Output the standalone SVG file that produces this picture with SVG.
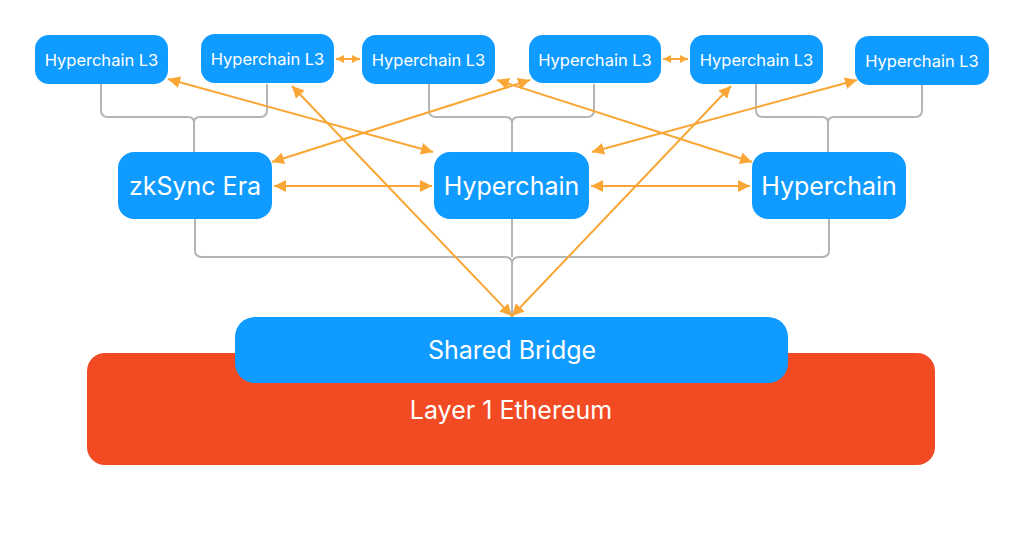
<svg xmlns="http://www.w3.org/2000/svg" width="1024" height="550" viewBox="0 0 1024 550">
<style>
.blue{fill:#0F9BFF}
.red{fill:#F24A22}
.t{font-family:Inter,"Noto Sans","Liberation Sans",sans-serif;fill:#fff;text-anchor:middle}
.s{font-size:16.5px}
.m{font-size:25px}
.g{fill:none;stroke:#b5b5b5;stroke-width:2}
.o{fill:none;stroke:#FAA634;stroke-width:2;marker-start:url(#ah);marker-end:url(#ah)}
.os{fill:none;stroke:#FAA634;stroke-width:2;marker-start:url(#ahs);marker-end:url(#ahs)}
</style>
<defs>
<marker id="ah" viewBox="0 0 10 10" refX="10" refY="5" markerWidth="6" markerHeight="6" orient="auto-start-reverse" markerUnits="strokeWidth">
<path d="M0,0 L10,5 L0,10 z" fill="#FAA634"/>
</marker>
<marker id="ahs" viewBox="0 0 10 10" refX="10" refY="5" markerWidth="4.2" markerHeight="5" orient="auto-start-reverse" markerUnits="strokeWidth">
<path d="M0,0 L10,5 L0,10 z" fill="#FAA634"/>
</marker>
</defs>
<rect width="1024" height="550" fill="#fff"/>
<g id="brackets">
<path class="g" d="M101,84 V110 Q101,117 108,117 H188 Q194,117 194,123 V152"/>
<path class="g" d="M267,84 V110 Q267,117 260,117 H200 Q194,117 194,123"/>
<path class="g" d="M429,84 V110 Q429,117 436,117 H505 Q512,117 512,123 V152"/>
<path class="g" d="M594,84 V110 Q594,117 587,117 H519 Q512,117 512,123"/>
<path class="g" d="M756,84 V110 Q756,117 763,117 H822 Q828,117 828,123 V152"/>
<path class="g" d="M922,84 V110 Q922,117 915,117 H834 Q828,117 828,123"/>
<path class="g" d="M195,219 V250 Q195,257 202,257 H505 Q512,257 512,264 V317"/>
<path class="g" d="M829,219 V250 Q829,257 822,257 H519 Q512,257 512,264"/>
<path class="g" d="M512,219 V257"/>
</g>
<g id="l1">
<rect class="red" x="87" y="353" width="848" height="112" rx="18"/>
<text class="t m" x="511" y="419">Layer 1 Ethereum</text>
</g>
<g id="bridge">
<rect class="blue" x="235" y="317" width="553" height="66" rx="20"/>
<text class="t m" x="512" y="359">Shared Bridge</text>
</g>
<g id="l3-1"><rect class="blue" x="35" y="35" width="133" height="49" rx="14"/><text class="t s" x="101.5" y="65.5">Hyperchain L3</text></g>
<g id="l3-2"><rect class="blue" x="201" y="34" width="133" height="49" rx="14"/><text class="t s" x="267.5" y="64.5">Hyperchain L3</text></g>
<g id="l3-3"><rect class="blue" x="362" y="35" width="133" height="49" rx="14"/><text class="t s" x="428.5" y="65.5">Hyperchain L3</text></g>
<g id="l3-4"><rect class="blue" x="529" y="35" width="132" height="48" rx="14"/><text class="t s" x="595" y="65.5">Hyperchain L3</text></g>
<g id="l3-5"><rect class="blue" x="690" y="35" width="133" height="49" rx="14"/><text class="t s" x="756.5" y="65.5">Hyperchain L3</text></g>
<g id="l3-6"><rect class="blue" x="855" y="36" width="134" height="49" rx="14"/><text class="t s" x="922" y="66.5">Hyperchain L3</text></g>
<g id="zksync"><rect class="blue" x="118" y="152" width="154" height="67" rx="16"/><text class="t m" x="195" y="194.5">zkSync Era</text></g>
<g id="hc-mid"><rect class="blue" x="434" y="152" width="155" height="67" rx="16"/><text class="t m" x="511.5" y="194.5">Hyperchain</text></g>
<g id="hc-right"><rect class="blue" x="752" y="152" width="154" height="67" rx="16"/><text class="t m" x="829" y="194.5">Hyperchain</text></g>
<g id="connectors">
<line class="os" x1="336" y1="59" x2="360" y2="59"/>
<line class="os" x1="663" y1="59" x2="688" y2="59"/>
<line class="o" x1="274" y1="186" x2="432" y2="186"/>
<line class="o" x1="591" y1="186" x2="750" y2="186"/>
<line class="o" x1="168" y1="79" x2="433" y2="152"/>
<line class="o" x1="497" y1="80" x2="752" y2="162"/>
<line class="o" x1="530" y1="80" x2="272" y2="162"/>
<line class="o" x1="857" y1="80" x2="592" y2="152"/>
<line class="o" x1="292" y1="86" x2="512" y2="316"/>
<line class="o" x1="731" y1="86" x2="512" y2="316"/>
</g>
</svg>
